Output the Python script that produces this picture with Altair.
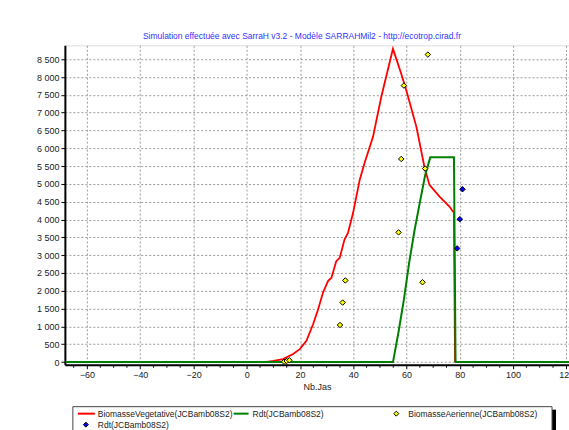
import altair as alt
import pandas as pd

# ---- data ----
red_days = [7.0, 10.0, 13.6, 17.4, 19.9, 22.4, 24.9, 26.8, 28.6, 30.5, 31.8, 33.6, 34.9, 36.7, 38.0,
            39.9, 40.9, 42.4, 44.2, 47.4, 50.5, 53.0, 54.9, 58.0, 59.9, 63.7, 66.7, 68.6, 72.4,
            76.1, 77.4, 77.8, 78.2]
red_vals = [0, 35, 84, 224, 363, 595, 1061, 1480, 1947, 2271, 2366, 2830, 2924, 3436, 3623,
            4181, 4553, 5112, 5578, 6321, 7439, 8210, 8790, 8092, 7626, 6601, 5483, 4972, 4645,
            4366, 4227, 4200, 0]

green_days = [-68, 54.9, 57, 59, 61, 63, 65, 67, 68.9, 77.8, 78.4, 121]
green_vals = [0, 0, 850, 1750, 2800, 3700, 4480, 5250, 5745, 5745, 0, 0]

yellow_days = [14, 15, 16, 35, 36, 37, 57, 58, 59, 66, 67, 68]
yellow_vals = [10, 30, 50, 1040, 1670, 2290, 3640, 5700, 7760, 2240, 5430, 8630]

blue_days = [79, 80, 81]
blue_vals = [3190, 4010, 4850]

x_ticks = [-60, -40, -20, 0, 20, 40, 60, 80, 100, 120]
x_minor = [-65, -55, -50, -45, -35, -30, -25, -15, -10, -5, 5, 10, 15, 25, 30, 35,
           45, 50, 55, 65, 70, 75, 85, 90, 95, 105, 110, 115]
y_ticks = [0, 500, 1000, 1500, 2000, 2500, 3000, 3500, 4000, 4500, 5000, 5500,
           6000, 6500, 7000, 7500, 8000, 8500]

title_text = "Simulation effectuée avec SarraH v3.2 - Modèle SARRAHMil2 - http://ecotrop.cirad.fr"
leg_red = "BiomasseVegetative(JCBamb08S2)"
leg_green = "Rdt(JCBamb08S2)"
leg_yellow = "BiomasseAerienne(JCBamb08S2)"
leg_blue = "Rdt(JCBamb08S2)"

FONT = "Liberation Sans"

red_df = pd.DataFrame({"x": red_days, "y": red_vals})
green_df = pd.DataFrame({"x": green_days, "y": green_vals})
yellow_df = pd.DataFrame({"x": yellow_days, "y": yellow_vals})
blue_df = pd.DataFrame({"x": blue_days, "y": blue_vals})
minor_df = pd.DataFrame({"x": x_minor})

xscale = alt.Scale(domain=[-68.3, 121], nice=False, zero=False)
yscale = alt.Scale(domain=[-75, 8890], nice=False, zero=False)

xaxis = alt.Axis(values=x_ticks, title="Nb.Jas", grid=True, gridDash=[2, 2], gridColor="#9a9a9a",
                 tickColor="black", tickSize=4, domainColor="black", domainWidth=2,
                 labelFontSize=9, labelColor="#222", labelFont=FONT, labelPadding=2,
                 labelOverlap=False,
                 titleFont=FONT, titleFontSize=9, titleFontWeight="normal", titleColor="#222",
                 titlePadding=3)
yaxis = alt.Axis(values=y_ticks, title=None, grid=True, gridDash=[2, 2], gridColor="#9a9a9a",
                 tickColor="black", tickSize=4, domainColor="black", domainWidth=2,
                 labelFontSize=9, labelColor="#222", labelFont=FONT, labelPadding=2,
                 labelOverlap=False,
                 labelExpr="replace(format(datum.value, ','), ',', ' ')")

X = alt.X("x:Q", scale=xscale, axis=xaxis)
Y = alt.Y("y:Q", scale=yscale, axis=yaxis)

red = alt.Chart(red_df).mark_line(color="#ff0000", strokeWidth=1.8).encode(x=X, y=Y)
green = alt.Chart(green_df).mark_line(color="#008000", strokeWidth=2).encode(x=X, y=Y)
yellow = alt.Chart(yellow_df).mark_point(shape="diamond", filled=True, fill="#ffff00",
                                         stroke="black", strokeWidth=1, size=30, opacity=1).encode(
    x=X, y=Y)
blue = alt.Chart(blue_df).mark_point(shape="diamond", filled=True, fill="#0000ff",
                                     stroke="black", strokeWidth=1, size=30, opacity=1).encode(
    x=X, y=Y)
minor = alt.Chart(minor_df).mark_rule(color="black", strokeWidth=1).encode(
    x=X, y=alt.value(321), y2=alt.value(323))

one = pd.DataFrame({"a": [0]})
leg_shadow = alt.Chart(one).mark_rect(fill="black").encode(
    x=alt.value(488), x2=alt.value(492), y=alt.value(365), y2=alt.value(400))
leg_box = alt.Chart(one).mark_rect(fill="white", stroke="#444", strokeWidth=1).encode(
    x=alt.value(8), x2=alt.value(488), y=alt.value(362), y2=alt.value(400))
leg_l1 = alt.Chart(one).mark_rule(color="#ff0000", strokeWidth=2).encode(
    x=alt.value(13), x2=alt.value(30), y=alt.value(369))
leg_l2 = alt.Chart(one).mark_rule(color="#008000", strokeWidth=2).encode(
    x=alt.value(169), x2=alt.value(184), y=alt.value(369))
leg_p1 = alt.Chart(one).mark_point(shape="diamond", filled=True, fill="#ffff00", stroke="black",
                                   strokeWidth=1, size=25, opacity=1).encode(
    x=alt.value(332), y=alt.value(369))
leg_p2 = alt.Chart(one).mark_point(shape="diamond", filled=True, fill="#0000ff", stroke="black",
                                   strokeWidth=1, size=25, opacity=1).encode(
    x=alt.value(21), y=alt.value(380))
tkw = dict(align="left", baseline="middle", fontSize=8.5, font=FONT, color="#222")
leg_t1 = alt.Chart(one).mark_text(**tkw, text=leg_red).encode(x=alt.value(33), y=alt.value(369))
leg_t2 = alt.Chart(one).mark_text(**tkw, text=leg_green).encode(x=alt.value(188), y=alt.value(369))
leg_t3 = alt.Chart(one).mark_text(**tkw, text=leg_yellow).encode(x=alt.value(344), y=alt.value(369))
leg_t4 = alt.Chart(one).mark_text(**tkw, text=leg_blue).encode(x=alt.value(33), y=alt.value(380))

chart = alt.layer(
    red, green, yellow, blue, minor,
    leg_shadow, leg_box, leg_l1, leg_l2, leg_p1, leg_p2, leg_t1, leg_t2, leg_t3, leg_t4
).properties(
    width=505, height=320,
    title=alt.TitleParams(title_text, fontSize=8.5, font=FONT, fontWeight="normal",
                          color="#3333ff", anchor="middle", dx=-15, offset=5),
    autosize=alt.AutoSizeParams(type="none"),
    padding={"left": 65, "top": 45, "right": 0, "bottom": 65},
).configure_view(stroke="#777", strokeWidth=1).configure(background="white")

chart.save("out.html", embed_options={"renderer": "svg", "actions": False})
